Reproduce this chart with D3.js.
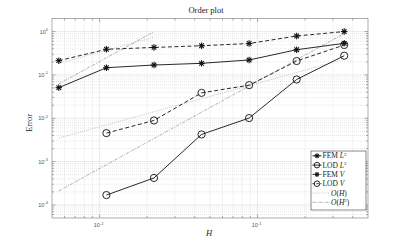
<!DOCTYPE html>
<html lang="en">
<head>
<meta charset="UTF-8">
<title>Order plot</title>
<script src="https://cdnjs.cloudflare.com/ajax/libs/d3/7.8.5/d3.min.js"></script>
<style>
    body { margin: 0; background: #fff; }
    svg { display: block; }
    .tick-label { font-family: "Liberation Sans", Arial, sans-serif; font-size: 5.5px; fill: #555; }
    .serif { font-family: "Liberation Serif", "DejaVu Serif", serif; fill: #222; }
</style>
</head>
<body>
<div id="chart"></div>
<script>
// mesh sizes
const H = [0.00552, 0.01105, 0.0221, 0.0442, 0.0884, 0.1768, 0.3536];
// errors per method
const femL2 = [0.0507, 0.1466, 0.169, 0.185, 0.221, 0.381, 0.535];
const lodL2 = [null, 0.000169, 0.000419, 0.00423, 0.0101, 0.0785, 0.277];
const femV  = [0.213, 0.39, 0.43, 0.47, 0.53, 0.79, 1.0];
const lodV  = [null, 0.00454, 0.0089, 0.0385, 0.058, 0.209, 0.49];
// reference slopes (endpoints)
const refOH_low   = [[H[0], 0.0035], [H[6], 0.228]];
const refOH2_low  = [[H[0], 0.00021], [H[6], 0.9]];
const refOH_up    = [[H[0], 0.185], [H[2], 0.74]];
const refOH2_up   = [[H[0], 0.062], [H[2], 0.99]];
const xTicks = [0.01, 0.1];
const yTicks = [1e-4, 1e-3, 1e-2, 1e-1, 1];

const W = 407, Hgt = 244;
const plot = {left: 52, right: 368, top: 18.5, bottom: 218};

const svg = d3.select("#chart").append("svg")
    .attr("width", W).attr("height", Hgt);

const x = d3.scaleLog().domain([0.005, 0.5]).range([plot.left, plot.right]);
const y = d3.scaleLog().domain([5e-5, 2]).range([plot.bottom, plot.top]);

// minor/major values
const xMinor = [], yMinor = [];
for (let e = -3; e <= 0; e++) for (let k = 2; k <= 9; k++) {
    const v = k * Math.pow(10, e);
    if (v > 0.005 && v < 0.5) xMinor.push(v);
}
for (let e = -5; e <= 0; e++) for (let k = 2; k <= 9; k++) {
    const v = k * Math.pow(10, e);
    if (v > 5e-5 && v < 2) yMinor.push(v);
}

// grid
const grid = svg.append("g");
grid.selectAll(".gxm").data(xMinor).enter().append("line")
    .attr("x1", d => x(d)).attr("x2", d => x(d))
    .attr("y1", plot.top).attr("y2", plot.bottom)
    .attr("stroke", "#d8d8d8").attr("stroke-width", 0.6).attr("stroke-dasharray", "1,1");
grid.selectAll(".gym").data(yMinor).enter().append("line")
    .attr("y1", d => y(d)).attr("y2", d => y(d))
    .attr("x1", plot.left).attr("x2", plot.right)
    .attr("stroke", "#d8d8d8").attr("stroke-width", 0.6).attr("stroke-dasharray", "1,1");
grid.selectAll(".gx").data(xTicks).enter().append("line")
    .attr("x1", d => x(d)).attr("x2", d => x(d))
    .attr("y1", plot.top).attr("y2", plot.bottom)
    .attr("stroke", "#e2e2e2").attr("stroke-width", 0.7);
grid.selectAll(".gy").data(yTicks).enter().append("line")
    .attr("y1", d => y(d)).attr("y2", d => y(d))
    .attr("x1", plot.left).attr("x2", plot.right)
    .attr("stroke", "#e2e2e2").attr("stroke-width", 0.7);

// axes box + ticks (all sides, inward)
const axisColor = "#8a8a8a";
const ax = svg.append("g").attr("stroke", axisColor).attr("stroke-width", 0.7);
ax.append("rect").attr("x", plot.left).attr("y", plot.top)
    .attr("width", plot.right - plot.left).attr("height", plot.bottom - plot.top)
    .attr("fill", "none");
function xt(vals, len) {
    vals.forEach(v => {
        ax.append("line").attr("x1", x(v)).attr("x2", x(v)).attr("y1", plot.bottom).attr("y2", plot.bottom - len);
        ax.append("line").attr("x1", x(v)).attr("x2", x(v)).attr("y1", plot.top).attr("y2", plot.top + len);
    });
}
function yt(vals, len) {
    vals.forEach(v => {
        ax.append("line").attr("y1", y(v)).attr("y2", y(v)).attr("x1", plot.left).attr("x2", plot.left + len);
        ax.append("line").attr("y1", y(v)).attr("y2", y(v)).attr("x1", plot.right).attr("x2", plot.right - len);
    });
}
xt(xTicks, 3.5); xt(xMinor, 2);
yt(yTicks, 3.5); yt(yMinor, 2);

// tick labels
function powLabel(g, v) {
    const e = Math.round(Math.log10(v));
    g.append("tspan").text("10");
    g.append("tspan").attr("dy", -2.5).attr("font-size", "4px").text(e);
}
xTicks.forEach(v => {
    const t = svg.append("text").attr("class", "tick-label")
        .attr("x", x(v) - 1).attr("y", 227).attr("text-anchor", "middle");
    powLabel(t, v);
});
yTicks.forEach(v => {
    const t = svg.append("text").attr("class", "tick-label")
        .attr("x", 48).attr("y", y(v) + 2).attr("text-anchor", "end");
    powLabel(t, v);
});

// titles
svg.append("text").attr("class", "serif").attr("x", 206).attr("y", 13)
    .attr("text-anchor", "middle").attr("font-size", "8.5px").text("Order plot");
svg.append("text").attr("class", "serif").attr("font-size", "8.5px")
    .attr("transform", "translate(32,123) rotate(-90)").attr("text-anchor", "middle").text("Error");
svg.append("text").attr("class", "serif").attr("font-size", "8.5px").attr("font-style", "italic")
    .attr("x", 209).attr("y", 236).attr("text-anchor", "middle").text("H");

// lines
const line = d3.line().defined(d => d[1] != null).x(d => x(d[0])).y(d => y(d[1]));
const pairs = vals => H.map((h, i) => [h, vals[i]]);

const refStyles = {
    oh:  {stroke: "#b5b5b5", dash: "1,1.2"},
    oh2: {stroke: "#9a9a9a", dash: "3,1.2,1,1.2"}
};
[[refOH_low, "oh"], [refOH_up, "oh"], [refOH2_low, "oh2"], [refOH2_up, "oh2"]].forEach(([d, s]) => {
    svg.append("path").datum(d).attr("d", line).attr("fill", "none")
        .attr("stroke", refStyles[s].stroke).attr("stroke-width", 0.8)
        .attr("stroke-dasharray", refStyles[s].dash);
});

const series = [
    {name: "FEM", sup: "L", vals: femL2, dash: null, marker: "star"},
    {name: "LOD", sup: "L", vals: lodL2, dash: null, marker: "circle"},
    {name: "FEM", sup: "V", vals: femV, dash: "4,2.5", marker: "star"},
    {name: "LOD", sup: "V", vals: lodV, dash: "4,2.5", marker: "circle"}
];

function drawMarker(g, type, cx, cy, r) {
    if (type === "circle") {
        g.append("circle").attr("cx", cx).attr("cy", cy).attr("r", r)
            .attr("fill", "none").attr("stroke", "#111").attr("stroke-width", 0.9);
    } else {
        const rs = r * 0.9;
        for (let a = 0; a < 4; a++) {
            const ang = a * Math.PI / 4;
            g.append("line")
                .attr("x1", cx - rs * Math.cos(ang)).attr("y1", cy - rs * Math.sin(ang))
                .attr("x2", cx + rs * Math.cos(ang)).attr("y2", cy + rs * Math.sin(ang))
                .attr("stroke", "#111").attr("stroke-width", 1.1);
        }
    }
}

series.forEach(s => {
    const g = svg.append("g");
    g.append("path").datum(pairs(s.vals)).attr("d", line).attr("fill", "none")
        .attr("stroke", "#111").attr("stroke-width", 0.9)
        .attr("stroke-dasharray", s.dash);
    pairs(s.vals).filter(d => d[1] != null).forEach(d => drawMarker(g, s.marker, x(d[0]), y(d[1]), 3.6));
});

// legend
const lg = svg.append("g");
lg.append("rect").attr("x", 311).attr("y", 151).attr("width", 55).attr("height", 59)
    .attr("fill", "#fff").attr("stroke", "#555").attr("stroke-width", 0.7);
const rowY = i => 155.8 + i * 9.3;
series.forEach((s, i) => {
    const yy = rowY(i);
    lg.append("line").attr("x1", 312.5).attr("x2", 321.5).attr("y1", yy).attr("y2", yy)
        .attr("stroke", "#111").attr("stroke-width", 0.9).attr("stroke-dasharray", s.dash ? "2.2,1.8" : null);
    drawMarker(lg, s.marker, 317, yy, 2.8);
    const t = lg.append("text").attr("class", "serif").attr("font-size", "7.5px")
        .attr("x", 322.5).attr("y", yy + 2.5);
    t.append("tspan").text(s.name + " ");
    t.append("tspan").attr("font-style", "italic").text(s.sup);
    if (s.sup === "L") t.append("tspan").attr("dy", -2.8).attr("font-size", "4.8px").text("2");
});
[["oh", "H", null], ["oh2", "H", "2"]].forEach(([k, v, p], j) => {
    const yy = rowY(4 + j);
    lg.append("line").attr("x1", 312.5).attr("x2", 330).attr("y1", yy).attr("y2", yy)
        .attr("stroke", refStyles[k].stroke).attr("stroke-width", 0.8)
        .attr("stroke-dasharray", refStyles[k].dash);
    const t = lg.append("text").attr("class", "serif").attr("font-size", "7.5px")
        .attr("x", 331).attr("y", yy + 2.5);
    t.append("tspan").attr("font-style", "italic").text("O");
    t.append("tspan").text("(");
    t.append("tspan").attr("font-style", "italic").text(v);
    if (p) t.append("tspan").attr("dy", -2.8).attr("font-size", "4.8px").text(p);
    t.append("tspan").attr("dy", p ? 2.8 : 0).text(")");
});
</script>
</body>
</html>
